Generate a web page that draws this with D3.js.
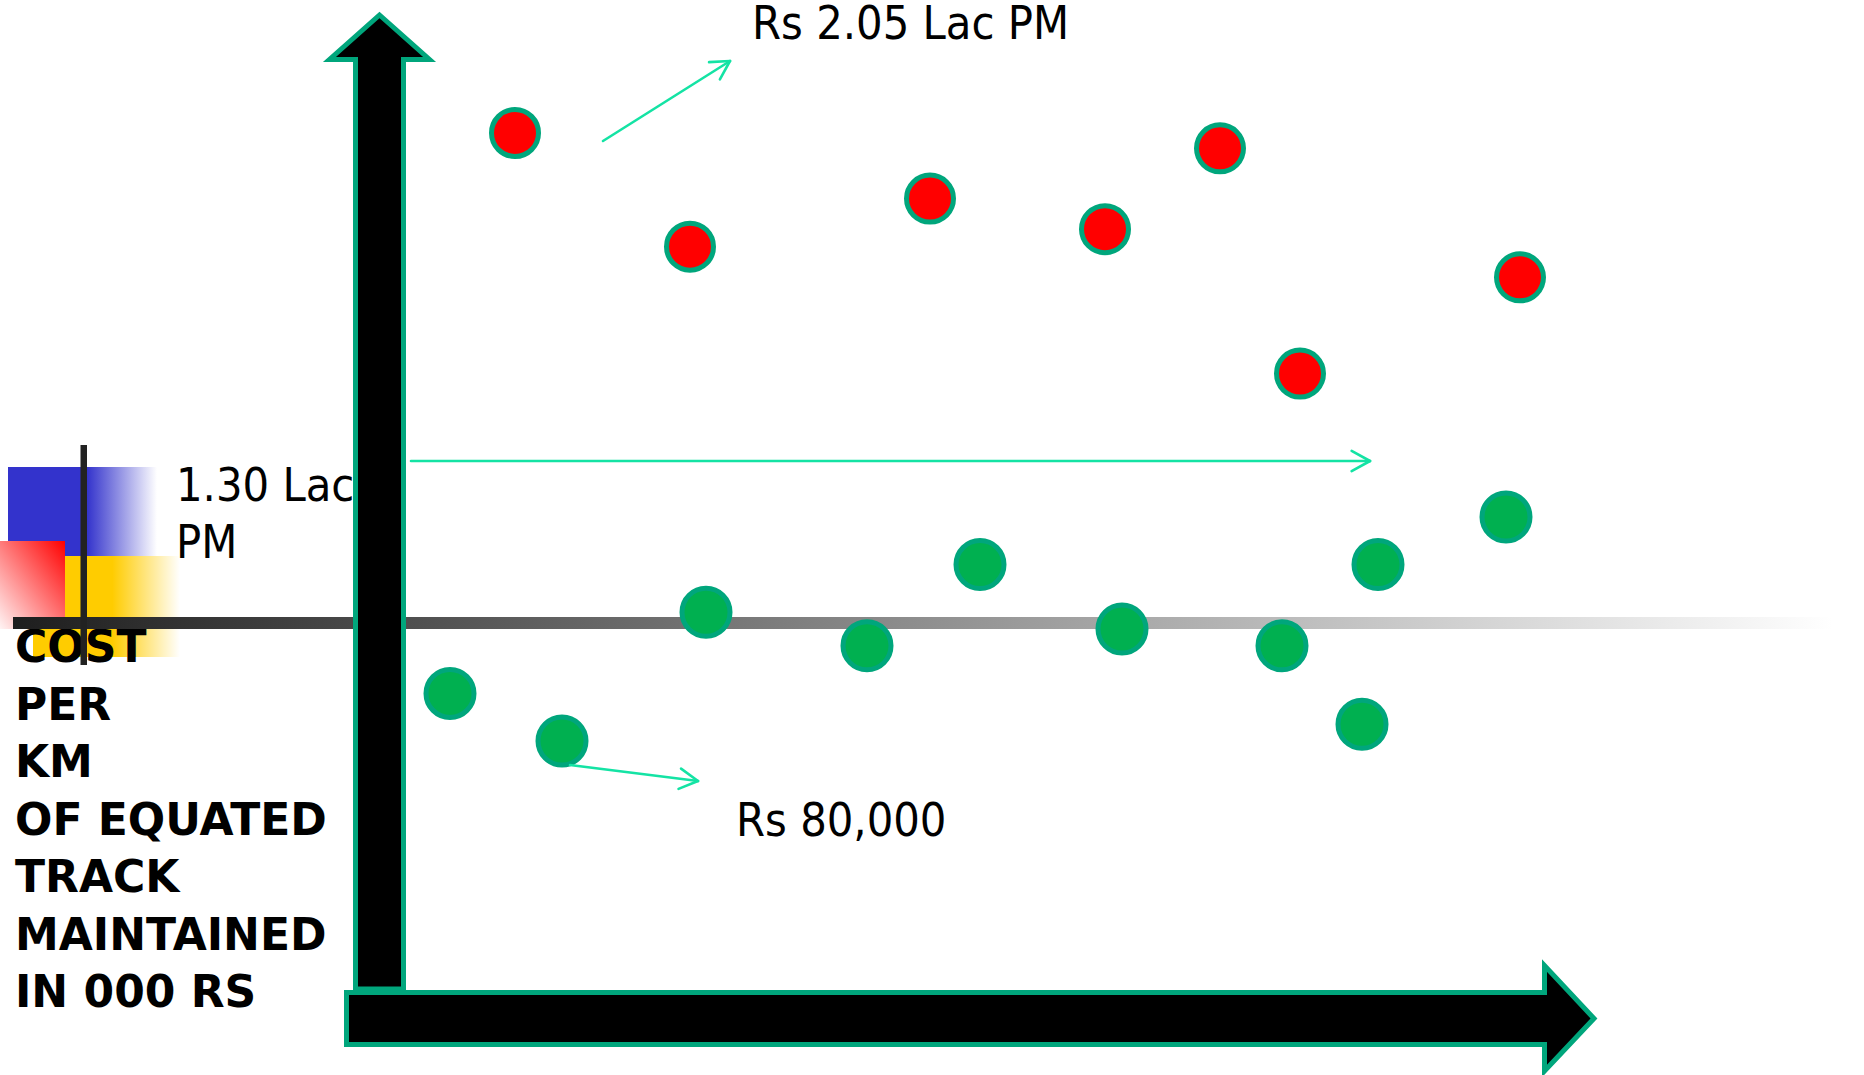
<!DOCTYPE html>
<html>
<head>
<meta charset="utf-8">
<script src="https://cdn.jsdelivr.net/npm/d3@7/dist/d3.min.js"></script>
<style>
  html, body { margin: 0; padding: 0; background: #ffffff; }
  svg { display: block; }
  .note { font-family: "DejaVu Sans Condensed", "DejaVu Sans", sans-serif; font-stretch: condensed; font-size: 46.5px; fill: #000; }
  .ylab { font-family: "DejaVu Sans", sans-serif; font-weight: bold; font-size: 44px; fill: #000; }
</style>
</head>
<body>
<svg id="chart" width="1864" height="1075"></svg>
<script>
// Cost per km of equated track maintained, in thousand Rs
const highX = [11.5, 29, 53, 70.5, 82, 90, 112];
const highCost = [205, 179, 190, 183, 201.5, 150, 172];
const lowX = [5, 16.2, 30.6, 46.7, 58, 72.2, 88.2, 96.2, 97.8, 110.6];
const lowCost = [88.5, 80, 103, 97, 111.5, 100, 97, 83, 111.5, 120];
const benchmarkCost = 130;   // 1.30 Lac PM
const yLabelLines = ["COST", "PER", "KM", "OF EQUATED", "TRACK", "MAINTAINED", "IN 000 RS"];

const svg = d3.select("#chart");
const defs = svg.append("defs");

const x = d3.scaleLinear().domain([0, 120]).range([400, 1600]);
const y = d3.scaleLinear().domain([80, 130, 205]).range([741, 461, 133]);

const AXIS_GREEN = "#00a67c";
const CALLOUT = "#14e3a4";

// ---- gradients for the corner ornament and the divider bar ----
function hGrad(id, color, solidTo) {
  const g = defs.append("linearGradient").attr("id", id)
    .attr("x1", "0").attr("y1", "0").attr("x2", "1").attr("y2", "0");
  g.append("stop").attr("offset", 0).attr("stop-color", color).attr("stop-opacity", 1);
  g.append("stop").attr("offset", solidTo).attr("stop-color", color).attr("stop-opacity", 1);
  g.append("stop").attr("offset", 1).attr("stop-color", color).attr("stop-opacity", 0);
}
hGrad("blueFade", "#3333cc", 0.53);
hGrad("yellowFade", "#ffcc00", 0.54);

const redG = defs.append("linearGradient").attr("id", "redFade")
  .attr("x1", "1").attr("y1", "0").attr("x2", "0").attr("y2", "1");
redG.append("stop").attr("offset", 0).attr("stop-color", "#ff0000");
redG.append("stop").attr("offset", 1).attr("stop-color", "#fff4f4");

const barG = defs.append("linearGradient").attr("id", "barFade")
  .attr("x1", "0").attr("y1", "0").attr("x2", "1").attr("y2", "0");
barG.append("stop").attr("offset", 0).attr("stop-color", "#1e1e1e");
barG.append("stop").attr("offset", 1).attr("stop-color", "#ffffff");

// ---- corner ornament ----
const orn = svg.append("g");
orn.append("rect").attr("x", 8).attr("y", 467).attr("width", 149).attr("height", 89).attr("fill", "url(#blueFade)");
orn.append("rect").attr("x", 33).attr("y", 556).attr("width", 147).attr("height", 101).attr("fill", "url(#yellowFade)");
orn.append("rect").attr("x", 0).attr("y", 541).attr("width", 65).attr("height", 88).attr("fill", "url(#redFade)");

// ---- axis title ----
const lab = svg.append("text").attr("class", "ylab").attr("x", 15).attr("y", 662);
lab.selectAll("tspan").data(yLabelLines).join("tspan")
  .attr("x", 15).attr("dy", (d, i) => i === 0 ? 0 : 57.5).text(d => d);

// divider bar and vertical rule
svg.append("rect").attr("x", 13).attr("y", 617).attr("width", 1820).attr("height", 12).attr("fill", "url(#barFade)");
svg.append("rect").attr("x", 80.5).attr("y", 445).attr("width", 6.5).attr("height", 220).attr("fill", "#222222");

// ---- benchmark label ----
const bench = svg.append("text").attr("class", "note").attr("x", 176).attr("y", 501);
bench.append("tspan").attr("x", 176).text("1.30 Lac");
bench.append("tspan").attr("x", 176).attr("dy", 57).text("PM");

// ---- block arrows as axes ----
const yArrow = d3.path();
yArrow.moveTo(355.5, 989);
yArrow.lineTo(355.5, 59.5);
yArrow.lineTo(329.5, 59.5);
yArrow.lineTo(379.5, 15);
yArrow.lineTo(429.5, 59.5);
yArrow.lineTo(403.5, 59.5);
yArrow.lineTo(403.5, 989);
yArrow.closePath();
svg.append("path").attr("d", yArrow.toString())
  .attr("fill", "#000").attr("stroke", AXIS_GREEN).attr("stroke-width", 5).attr("stroke-linejoin", "miter");

const xArrow = d3.path();
xArrow.moveTo(346.5, 992.5);
xArrow.lineTo(1544.5, 992.5);
xArrow.lineTo(1544.5, 965.5);
xArrow.lineTo(1594, 1018.5);
xArrow.lineTo(1544.5, 1071);
xArrow.lineTo(1544.5, 1044.5);
xArrow.lineTo(346.5, 1044.5);
xArrow.closePath();
svg.append("path").attr("d", xArrow.toString())
  .attr("fill", "#000").attr("stroke", AXIS_GREEN).attr("stroke-width", 5).attr("stroke-linejoin", "miter");

// ---- callout arrows ----
function callout(x1, y1, x2, y2) {
  const g = svg.append("g").attr("stroke", CALLOUT).attr("stroke-width", 2.6)
    .attr("fill", "none").attr("stroke-linecap", "round");
  g.append("line").attr("x1", x1).attr("y1", y1).attr("x2", x2).attr("y2", y2);
  const a = Math.atan2(y2 - y1, x2 - x1), len = 21, spread = Math.PI / 6.2;
  [a + Math.PI - spread, a + Math.PI + spread].forEach(t => {
    g.append("line").attr("x1", x2).attr("y1", y2)
      .attr("x2", x2 + len * Math.cos(t)).attr("y2", y2 + len * Math.sin(t));
  });
}

// benchmark line at 1.30 Lac
callout(x(1.1), y(benchmarkCost), x(97), y(benchmarkCost));

// ---- points ----
const high = highX.map((v, i) => ({ x: v, c: highCost[i] }));
const low = lowX.map((v, i) => ({ x: v, c: lowCost[i] }));

svg.append("g").selectAll("circle").data(low).join("circle")
  .attr("cx", d => x(d.x)).attr("cy", d => y(d.c)).attr("r", 24)
  .attr("fill", "#00b050").attr("stroke", AXIS_GREEN).attr("stroke-width", 5);

svg.append("g").selectAll("circle").data(high).join("circle")
  .attr("cx", d => x(d.x)).attr("cy", d => y(d.c)).attr("r", 23.5)
  .attr("fill", "#ff0000").attr("stroke", AXIS_GREEN).attr("stroke-width", 5);

// peak and floor callouts
const peak = high[d3.maxIndex(high, d => d.c)];
const floor = low[d3.minIndex(low, d => d.c)];
callout(x(peak.x) + 88, y(peak.c) + 8, x(peak.x) + 215, y(peak.c) - 72);
callout(x(floor.x) + 8, y(floor.c) + 24, x(floor.x) + 136, y(floor.c) + 40);

svg.append("text").attr("class", "note").attr("x", 752).attr("y", 39)
  .text("Rs " + d3.format(".2f")(peak.c / 100) + " Lac PM");
svg.append("text").attr("class", "note").attr("x", 736).attr("y", 836)
  .text("Rs " + d3.format(",")(floor.c * 1000));
</script>
</body>
</html>
